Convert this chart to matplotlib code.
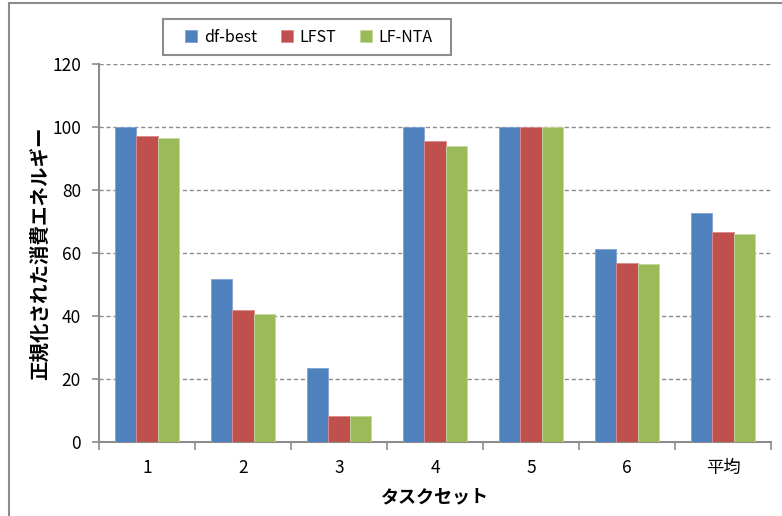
import matplotlib.pyplot as plt
import matplotlib.patches as mpatches
import numpy as np

plt.rcParams['font.family'] = ['Noto Sans CJK JP', 'DejaVu Sans']

# task sets on the x axis
task_sets = ['1', '2', '3', '4', '5', '6', '平均']

# normalised energy consumption per method
df_best = [100, 51.6, 23.4, 100, 100, 61.3, 72.6]
lfst = [97.2, 41.8, 8.3, 95.7, 100, 56.9, 66.6]
lf_nta = [96.6, 40.6, 8.3, 93.9, 100, 56.5, 65.9]

series_names = ['df-best', 'LFST', 'LF-NTA']
series_colors = ['#4F81BD', '#C0504D', '#9BBB59']
edge_colors = ['#7FA3D3', '#D98C8A', '#C4D89B']

y_ticks = [0, 20, 40, 60, 80, 100, 120]

fig = plt.figure(figsize=(7.82, 5.16), dpi=100)
ax = fig.add_axes([99 / 782, 74 / 516, 672 / 782, 378 / 516])

# outer chart-area frame (only the left and top edges are visible)
frame = mpatches.Rectangle((9 / 782, -0.1), 1.2, 1.1 - 3 / 516,
                           transform=fig.transFigure, fill=False,
                           edgecolor='#8c8c8c', linewidth=1.5, zorder=0)
fig.patches.append(frame)

x = np.arange(len(task_sets))
bar_w = 2 / 9
for i, (vals, name) in enumerate(zip([df_best, lfst, lf_nta], series_names)):
    ax.bar(x + (i - 1) * bar_w, vals, width=bar_w, color=series_colors[i],
           edgecolor=edge_colors[i], linewidth=0.6, label=name, zorder=3)

ax.set_xlim(-0.5, len(task_sets) - 0.5)
ax.set_ylim(0, 120)
ax.set_yticks(y_ticks)
ax.set_yticklabels([str(t) for t in y_ticks], fontsize=12.5)
ax.set_xticks(x)
ax.set_xticklabels(task_sets, fontsize=12.5)
ax.tick_params(axis='x', length=0, pad=12)
ax.tick_params(axis='y', length=5, width=1.2, color='#8c8c8c', pad=8)

# boundary ticks between groups on the x axis
ax.set_xticks(np.arange(-0.5, len(task_sets)), minor=True)
ax.tick_params(axis='x', which='minor', length=6, width=1.2, color='#8c8c8c')

ax.yaxis.grid(True, linestyle=(0, (3, 2)), color='#8c8c8c', linewidth=1.0, zorder=0)
ax.set_axisbelow(True)
for side in ['top', 'right']:
    ax.spines[side].set_visible(False)
for side in ['left', 'bottom']:
    ax.spines[side].set_color('#8c8c8c')
    ax.spines[side].set_linewidth(1.5)

ax.set_ylabel('正規化された消費エネルギー', fontsize=14, fontweight='bold', labelpad=2)
ax.set_xlabel('タスクセット', fontsize=13, fontweight='bold', labelpad=8)

# legend box drawn separately so its size is fixed
legend_box = mpatches.Rectangle((163 / 782, 1 - 55 / 516), 288 / 782, 36 / 516,
                                transform=fig.transFigure, fill=True, facecolor='white',
                                edgecolor='#8c8c8c', linewidth=1.5, zorder=5)
fig.patches.append(legend_box)
leg = fig.legend(loc='center', ncol=3, fontsize=11.5, frameon=False,
                 bbox_to_anchor=(309 / 782, 1 - 37 / 516),
                 handlelength=0.75, handleheight=0.75,
                 handletextpad=0.4, columnspacing=1.5)

fig.savefig('out.png', dpi=100)
